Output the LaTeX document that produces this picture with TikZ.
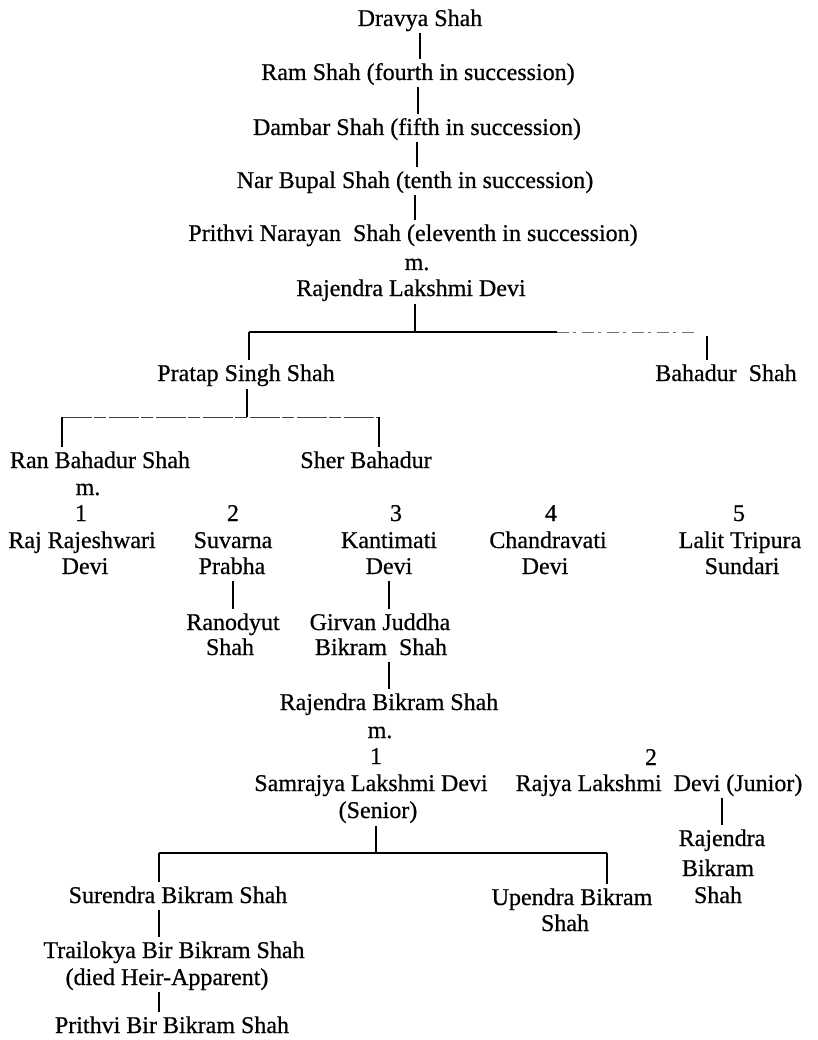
\documentclass[tikz,border=0pt]{standalone}
\usepackage{fontspec}
\setmainfont[FakeBold=0.6]{Liberation Serif}
\begin{document}
\begin{tikzpicture}[x=1pt,y=-1pt,
  t/.style={anchor=base,inner sep=0pt,text height=17pt,text depth=5pt,font=\fontsize{24}{28}\selectfont},
  ln/.style={line width=1.2pt,black},
  down/.style={ln,shorten <=2pt,shorten >=4pt},
  drop/.style={ln,shorten >=4pt},
  rise/.style={ln,shorten <=3pt},
  faint/.style={line width=0.8pt,black!55,dash pattern=on 12pt off 4pt on 3pt off 6pt},
  broken/.style={line width=0.8pt,black!75,dash pattern=on 30pt off 2pt on 12pt off 3pt}]
\fill[white] (0,0) rectangle (817,1040);
\useasboundingbox (0,0) rectangle (817,1040);
% top line of succession
\node[t] (dravya) at (420,26) {Dravya Shah};
\node[t] (ram) at (418,80) {Ram Shah (fourth in succession)};
\node[t] (dambar) at (417,135) {Dambar Shah (fifth in succession)};
\node[t] (nar) at (415,188) {Nar Bupal Shah (tenth in succession)};
\node[t] (prithvin) at (413,241) {Prithvi Narayan\ \ Shah (eleventh in succession)};
\node[t] (m1) at (417,270) {m.};
\node[t] (rld) at (411,296) {Rajendra Lakshmi Devi};
\draw[down] (dravya.south) -- (dravya.south |- ram.north);
\draw[down] (ram.south) -- (ram.south |- dambar.north);
\draw[down] (dambar.south) -- (dambar.south |- nar.north);
\draw[down] (nar.south) -- (nar.south |- prithvin.north);
% first branching
\coordinate (j1) at (415,332);
\coordinate (hL) at (249,332);
\coordinate (hM) at (557,332);
\coordinate (hR) at (697,332);
\coordinate (bR) at (707,336);
\node[t] (pratap) at (246,381) {Pratap Singh Shah};
\node[t] (bahadur) at (726,381) {Bahadur\ \ Shah};
\draw[rise] (rld.south -| j1) -- (j1);
\draw[ln] (hL) -- (hM);
\draw[faint] (hM) -- (hR);
\draw[drop] (hL) -- (pratap.north -| hL);
\draw[drop] (bR) -- (bahadur.north -| bR);
% Pratap's sons
\coordinate (j2) at (247,417);
\coordinate (j2L) at (62,417);
\coordinate (j2R) at (379,417);
\node[t] (ranb) at (100,468) {Ran Bahadur Shah};
\node[t] (sher) at (366,468) {Sher Bahadur};
\draw[rise] (pratap.south -| j2) -- (j2);
\draw[broken] (j2L) -- (j2R);
\draw[drop] (j2L) -- (ranb.north -| j2L);
\draw[drop] (j2R) -- (sher.north -| j2R);
% Ran Bahadur's wives
\node[t] (m2) at (88,495) {m.};
\node[t] (n1) at (81,521) {1};
\node[t] (n2) at (233,521) {2};
\node[t] (n3) at (396,521) {3};
\node[t] (n4) at (551,521) {4};
\node[t] (n5) at (739,521) {5};
\node[t] (w1a) at (82,548) {Raj Rajeshwari};
\node[t] (w1b) at (85,574) {Devi};
\node[t] (w2a) at (233,548) {Suvarna};
\node[t] (w2b) at (232,574) {Prabha};
\node[t] (w3a) at (389,548) {Kantimati};
\node[t] (w3b) at (389,574) {Devi};
\node[t] (w4a) at (548,548) {Chandravati};
\node[t] (w4b) at (545,574) {Devi};
\node[t] (w5a) at (740,548) {Lalit Tripura};
\node[t] (w5b) at (742,574) {Sundari};
% their sons
\node[t] (rodA) at (233,630) {Ranodyut};
\node[t] (rodB) at (230,655) {Shah};
\node[t] (girA) at (380,630) {Girvan Juddha};
\node[t] (girB) at (381,655) {Bikram\ \ Shah};
\draw[down] (w2b.south -| w2a) -- (rodA.north -| w2a);
\draw[down] (w3b.south) -- (w3b.south |- girA.north);
% Rajendra Bikram Shah
\node[t] (rbs) at (389,710) {Rajendra Bikram Shah};
\draw[down] (girB.south -| w3b) -- (rbs.north -| w3b);
\node[t] (m3) at (380,738) {m.};
\node[t] (nb1) at (376,764) {1};
\node[t] (nb2) at (651,765) {2};
\node[t] (samA) at (371,791) {Samrajya Lakshmi Devi};
\node[t] (samB) at (378,818) {(Senior)};
\node[t] (rajya) at (659,791) {Rajya Lakshmi\ \ Devi (Junior)};
% junior's son
\node[t] (rbA) at (722,846) {Rajendra};
\node[t] (rbB) at (718,876) {Bikram};
\node[t] (rbC) at (718,903) {Shah};
\draw[down] (rajya.south -| rbA) -- (rbA.north);
% senior's sons
\coordinate (j3) at (376,853);
\coordinate (j3L) at (159,853);
\coordinate (j3R) at (607,853);
\node[t] (surendra) at (178,903) {Surendra Bikram Shah};
\node[t] (upA) at (572,905) {Upendra Bikram};
\node[t] (upB) at (565,931) {Shah};
\draw[rise] (samB.south -| j3) -- (j3);
\draw[ln] (j3L) -- (j3R);
\draw[drop] (j3L) -- (surendra.north -| j3L);
\draw[drop] (j3R) -- (upA.north -| j3R);
% descendants of Surendra
\node[t] (trA) at (174,958) {Trailokya Bir Bikram Shah};
\node[t] (trB) at (167,985) {(died Heir-Apparent)};
\node[t] (prithvib) at (172,1033) {Prithvi Bir Bikram Shah};
\draw[down] (surendra.south -| j3L) -- (trA.north -| j3L);
\draw[down] (trB.south -| j3L) -- (prithvib.north -| j3L);
\end{tikzpicture}
\end{document}
